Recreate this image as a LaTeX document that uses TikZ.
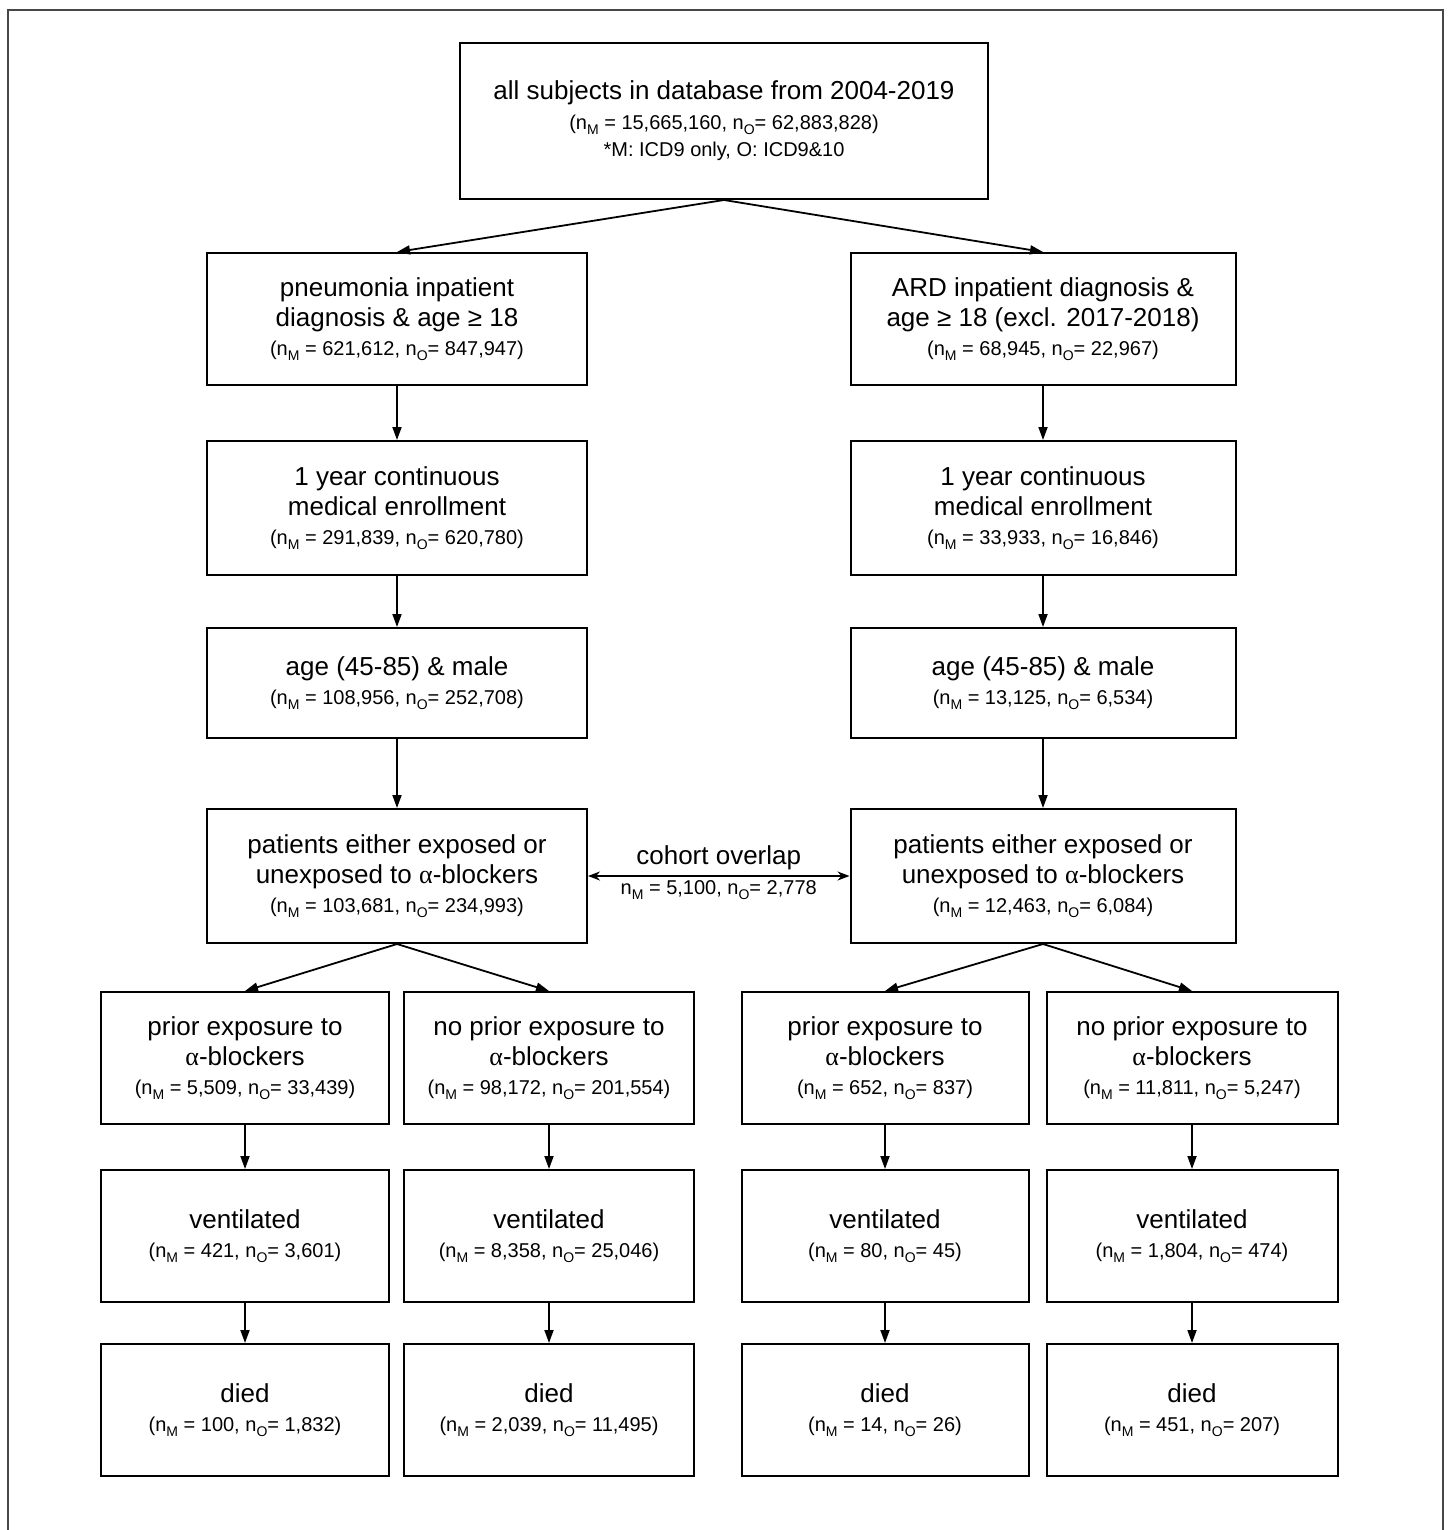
\documentclass[tikz,border=0pt]{standalone}
\usepackage{fontspec}
\setmainfont{Liberation Sans}
\newfontfamily\greekfont{Liberation Serif}
\usetikzlibrary{arrows.meta}
\definecolor{cohInk}{HTML}{000000}
\definecolor{cohFrame}{HTML}{474747}
\newcommand{\nsub}[1]{\raisebox{-5pt}{\fontsize{14}{14}\selectfont #1}}
\newcommand{\ncount}[2]{{\fontsize{20}{27}\selectfont(n\nsub{M} = #1, n\nsub{O}= #2)}}
\newcommand{\ablk}{{\greekfont α}-blockers}
\tikzset{
  coh box/.style={draw=cohInk, line width=2pt, align=center, inner sep=0pt, font=\fontsize{26}{30}\selectfont},
  coh col/.style={coh box, minimum width=380pt},
  coh rcol/.style={coh box, minimum width=385pt},
  coh arrow/.style={draw=cohInk, line width=1.8pt, -{Triangle[length=13pt,width=9pt]}},
  coh both/.style={draw=cohInk, line width=1.8pt, {Stealth[length=12pt,width=9pt]}-{Stealth[length=12pt,width=9pt]}},
  coh frame/.style={draw=cohFrame, line width=2pt},
}

\begin{document}
\begin{tikzpicture}[x=1pt,y=-1pt]
  \useasboundingbox (0,0) rectangle (1448,1530);
  \draw[coh frame] (8,1530) -- (8,10) -- (1443,10) -- (1443,1530);
  % top
  \node[coh box, minimum width=528pt, minimum height=156pt] (allsub) at (724,121) {all subjects in database from 2004-2019\\[0pt]\ncount{15,665,160}{62,883,828}\\[-3pt]{\fontsize{20}{27}\selectfont *M: ICD9 only, O: ICD9\&10}};
  % pneumonia column
  \node[coh col, minimum height=132pt] (pneu) at (397,319) {pneumonia inpatient\\diagnosis \& age ≥ 18\\[-1pt]\ncount{621,612}{847,947}};
  \node[coh col, minimum height=134pt] (pEnrol) at (397,508) {1 year continuous\\medical enrollment\\[-1pt]\ncount{291,839}{620,780}};
  \node[coh col, minimum height=110pt] (pAge) at (397,683) {age (45-85) \& male\\[-1pt]\ncount{108,956}{252,708}};
  \node[coh col, minimum height=134pt] (pExp) at (397,876) {patients either exposed or\\unexposed to \ablk\\[-1pt]\ncount{103,681}{234,993}};
  % ARD column
  \node[coh rcol, minimum height=132pt] (ard) at (1043,319) {ARD inpatient diagnosis \&\\age ≥ 18 (excl. 2017-2018)\\[-1pt]\ncount{68,945}{22,967}};
  \node[coh rcol, minimum height=134pt] (aEnrol) at (1043,508) {1 year continuous\\medical enrollment\\[-1pt]\ncount{33,933}{16,846}};
  \node[coh rcol, minimum height=110pt] (aAge) at (1043,683) {age (45-85) \& male\\[-1pt]\ncount{13,125}{6,534}};
  \node[coh rcol, minimum height=134pt] (aExp) at (1043,876) {patients either exposed or\\unexposed to \ablk\\[-1pt]\ncount{12,463}{6,084}};
  % exposure split
  \node[coh box, minimum width=288pt, minimum height=132pt] (pPrior) at (245,1058) {prior exposure to\\\ablk\\[-1pt]\ncount{5,509}{33,439}};
  \node[coh box, minimum width=290pt, minimum height=132pt] (pNone) at (549,1058) {no prior exposure to\\\ablk\\[-1pt]\ncount{98,172}{201,554}};
  \node[coh box, minimum width=287pt, minimum height=132pt] (aPrior) at (885,1058) {prior exposure to\\\ablk\\[-1pt]\ncount{652}{837}};
  \node[coh box, minimum width=291pt, minimum height=132pt] (aNone) at (1192,1058) {no prior exposure to\\\ablk\\[-1pt]\ncount{11,811}{5,247}};
  % ventilated
  \node[coh box, minimum width=288pt, minimum height=132pt] (pVentP) at (245,1236) {ventilated\\[-1pt]\ncount{421}{3,601}};
  \node[coh box, minimum width=290pt, minimum height=132pt] (pVentN) at (549,1236) {ventilated\\[-1pt]\ncount{8,358}{25,046}};
  \node[coh box, minimum width=287pt, minimum height=132pt] (aVentP) at (885,1236) {ventilated\\[-1pt]\ncount{80}{45}};
  \node[coh box, minimum width=291pt, minimum height=132pt] (aVentN) at (1192,1236) {ventilated\\[-1pt]\ncount{1,804}{474}};
  % died
  \node[coh box, minimum width=288pt, minimum height=132pt] (pDiedP) at (245,1410) {died\\[-1pt]\ncount{100}{1,832}};
  \node[coh box, minimum width=290pt, minimum height=132pt] (pDiedN) at (549,1410) {died\\[-1pt]\ncount{2,039}{11,495}};
  \node[coh box, minimum width=287pt, minimum height=132pt] (aDiedP) at (885,1410) {died\\[-1pt]\ncount{14}{26}};
  \node[coh box, minimum width=291pt, minimum height=132pt] (aDiedN) at (1192,1410) {died\\[-1pt]\ncount{451}{207}};

  \draw[coh arrow] (allsub.south) -- (pneu.north);
  \draw[coh arrow] (allsub.south) -- (ard.north);
  \foreach \a/\b in {pneu/pEnrol,pEnrol/pAge,pAge/pExp,ard/aEnrol,aEnrol/aAge,aAge/aExp,
    pExp/pPrior,pExp/pNone,aExp/aPrior,aExp/aNone,
    pPrior/pVentP,pNone/pVentN,aPrior/aVentP,aNone/aVentN,
    pVentP/pDiedP,pVentN/pDiedN,aVentP/aDiedP,aVentN/aDiedN}
    \draw[coh arrow] (\a.south) -- (\b.north);
  \draw[coh both] (pExp.east) -- node[above=2pt, font=\fontsize{26}{30}\selectfont] (ovTitle) {cohort overlap} node[below=0pt] (ovCount) {\fontsize{20}{27}\selectfont n\nsub{M} = 5,100, n\nsub{O}= 2,778} (aExp.west);
\end{tikzpicture}
\end{document}
